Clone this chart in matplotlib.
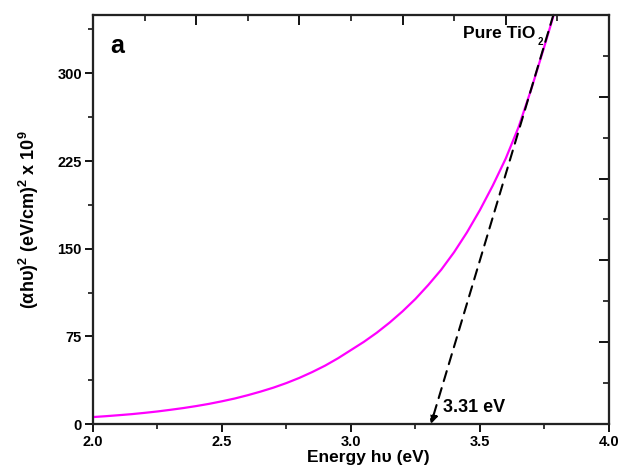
import matplotlib
matplotlib.use("Agg")
import matplotlib.pyplot as plt
from matplotlib.ticker import MultipleLocator, FixedLocator, NullFormatter, FormatStrFormatter

plt.rcParams['font.family'] = ['Liberation Sans', 'DejaVu Sans']
plt.rcParams['font.weight'] = 'bold'
plt.rcParams['mathtext.default'] = 'regular'

# Tauc plot data: photon energy (eV) and (alpha*h*nu)^2 in units of 1e9 (eV/cm)^2
energy = [2.00, 2.05, 2.10, 2.15, 2.20, 2.25, 2.30, 2.35, 2.40, 2.45,
          2.50, 2.55, 2.60, 2.65, 2.70, 2.75, 2.80, 2.85, 2.90, 2.95,
          3.00, 3.05, 3.10, 3.15, 3.20, 3.25, 3.30, 3.35, 3.40, 3.45,
          3.50, 3.55, 3.60, 3.65, 3.70, 3.75, 3.80]
ahv2 = [6.0, 6.75, 7.6, 8.5, 9.6, 10.8, 12.2, 13.7, 15.4, 17.3,
        19.5, 21.9, 24.7, 27.8, 31.2, 35.1, 39.5, 44.5, 50.0, 56.3,
        63.3, 70.3, 78.1, 86.8, 96.4, 107.0, 119.0, 132.0, 147.0, 164.0,
        183.0, 204.0, 227.0, 254.0, 287.0, 323.0, 360.0]

# Linear extrapolation of the absorption edge
band_gap = 3.31
fit_top = (3.785, 350.0)

fig = plt.figure(figsize=(6.2, 4.65), dpi=100)
ax = fig.add_axes([0.150, 0.088, 0.832, 0.880])

ax.plot(energy, ahv2, color='#ff00ff', lw=1.6, zorder=3)
ax.annotate('', xy=(band_gap, 0), xytext=fit_top,
            arrowprops=dict(arrowstyle='-|>', color='black', lw=1.5,
                            linestyle=(0, (5, 3.5)), mutation_scale=12,
                            shrinkA=0, shrinkB=0),
            annotation_clip=False, zorder=4)

ax.set_xlim(2.0, 4.0)
ax.set_ylim(0, 350)

ax.xaxis.set_major_locator(MultipleLocator(0.5))
ax.xaxis.set_minor_locator(MultipleLocator(0.25))
ax.xaxis.set_major_formatter(FormatStrFormatter('%.1f'))
ax.yaxis.set_major_locator(FixedLocator([0, 75, 150, 225, 300]))
ax.yaxis.set_minor_locator(FixedLocator([37.5, 112.5, 187.5, 262.5, 337.5]))
ax.tick_params(axis='both', which='major', direction='out', length=6, width=1.3,
               labelsize=10.5, pad=2)
ax.tick_params(axis='both', which='minor', direction='out', length=3.5, width=1.1)
for lab in ax.get_xticklabels() + ax.get_yticklabels():
    lab.set_fontweight('bold')

for sp in ax.spines.values():
    sp.set_linewidth(1.5)
    sp.set_color('#222222')

# Mirrored axes with their own inward ticks
axt = ax.twiny()
axt.set_xlim(ax.get_xlim())
axt.xaxis.set_major_locator(FixedLocator([2.4, 2.8, 3.2, 3.6, 4.0]))
axt.xaxis.set_minor_locator(FixedLocator([2.2, 2.6, 3.0, 3.4, 3.8]))
axt.xaxis.set_major_formatter(NullFormatter())
axt.tick_params(axis='x', which='major', direction='in', length=7, width=1.3)
axt.tick_params(axis='x', which='minor', direction='in', length=4, width=1.1)

axr = ax.twinx()
axr.set_ylim(ax.get_ylim())
axr.yaxis.set_major_locator(FixedLocator([70, 140, 210, 280]))
axr.yaxis.set_minor_locator(FixedLocator([35, 105, 175, 245, 315]))
axr.yaxis.set_major_formatter(NullFormatter())
axr.tick_params(axis='y', which='major', direction='in', length=7, width=1.3)
axr.tick_params(axis='y', which='minor', direction='in', length=4, width=1.1)
for a in (axt, axr):
    for sp in a.spines.values():
        sp.set_linewidth(1.5)
        sp.set_color('#222222')

ax.set_xlabel('Energy h\u03c5 (eV)', fontsize=12.5, fontweight='bold')
ax.xaxis.set_label_coords(0.533, -0.081, transform=ax.transAxes)
ax.xaxis.label.set_va('center')
ax.set_ylabel('(\u03b1h\u03c5)$^{2}$ (eV/cm)$^{2}$ x 10$^{9}$', fontsize=13,
              fontweight='bold')
ax.yaxis.set_label_coords(-0.125, 0.5, transform=ax.transAxes)
ax.yaxis.label.set_va('center')

ax.text(0.033, 0.925, 'a', transform=ax.transAxes, fontsize=18,
        fontweight='bold', va='center', ha='left')
ax.text(3.717, 334, 'Pure TiO', fontsize=12.5, fontweight='bold',
        ha='right', va='center')
ax.text(3.724, 327, '2', fontsize=7, fontweight='bold',
        ha='left', va='center')
ax.text(3.357, 14.5, '3.31 eV', fontsize=13, fontweight='bold',
        ha='left', va='center')

fig.savefig('out.png', dpi=100)
